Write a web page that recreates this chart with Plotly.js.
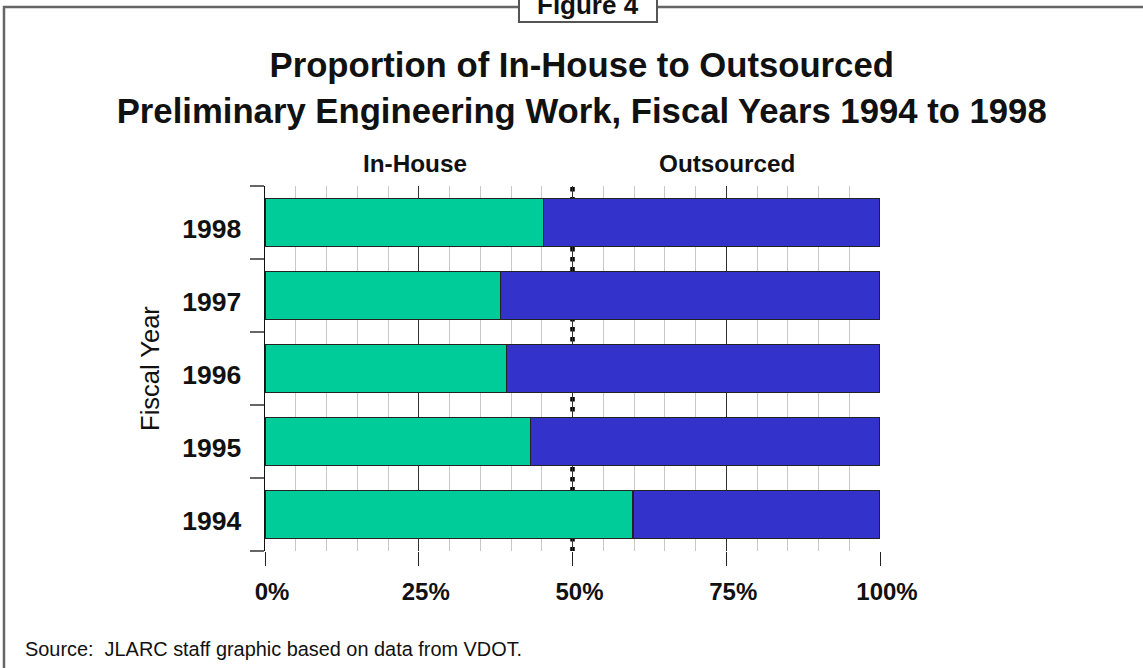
<!DOCTYPE html>
<html>
<head>
<meta charset="utf-8">
<script src="https://cdn.plot.ly/plotly-3.0.1.min.js"></script>
<style>
html,body{margin:0;padding:0;background:#fff;}
#chart{width:1143px;height:668px;}
</style>
</head>
<body>
<div id="chart"></div>
<script>
// Data
const fiscalYears = ["1994", "1995", "1996", "1997", "1998"];
const inHouse = [59.8, 43.2, 39.3, 38.3, 45.3];
const outsourced = [40.2, 56.8, 60.7, 61.7, 54.7];
const xTickVals = [0, 25, 50, 75, 100];
const xTickText = ["0%", "25%", "50%", "75%", "100%"];
const seriesNames = ["In-House", "Outsourced"];

const FONT = "Liberation Sans, Arial, Helvetica, sans-serif";
const INK = "#111";

const barOutline = {color: "#222", width: 1.5};
const traces = [
  {
    type: "bar", orientation: "h", name: seriesNames[0],
    y: fiscalYears, x: inHouse, width: 0.66,
    marker: {color: "#00CC99", line: barOutline},
    hoverinfo: "skip"
  },
  {
    type: "bar", orientation: "h", name: seriesNames[1],
    y: fiscalYears, x: outsourced, width: 0.66,
    marker: {color: "#3333CC", line: barOutline},
    hoverinfo: "skip"
  }
];

const layout = {
  width: 1143, height: 668,
  margin: {l: 265, r: 263, t: 186, b: 117, pad: 0},
  paper_bgcolor: "#fff", plot_bgcolor: "#fff",
  barmode: "stack",
  showlegend: false,
  font: {family: FONT, color: INK},
  title: {
    text: "Proportion of In-House to Outsourced<br>Preliminary Engineering Work, Fiscal Years 1994 to 1998",
    font: {family: FONT, size: 34.7, color: INK, weight: "bold"},
    x: 0.515, xanchor: "center", xref: "paper",
    y: 0.884, yanchor: "middle"
  },
  xaxis: {
    range: [0, 100], fixedrange: true,
    tickvals: xTickVals, ticktext: xTickText,
    ticks: "outside", ticklen: 14, tickwidth: 1, tickcolor: "#222",
    tickfont: {family: FONT, size: 24, color: INK, weight: "bold"},
    ticklabelstandoff: 5, ticklabelshift: 7,
    showgrid: true, gridcolor: "#333", gridwidth: 1,
    minor: {dtick: 5, showgrid: true, gridcolor: "#c8c8c8", gridwidth: 1, ticks: ""},
    zeroline: false, showline: false
  },
  yaxis: {
    type: "category", categoryorder: "array", categoryarray: fiscalYears,
    range: [-0.5, 4.5], fixedrange: true,
    tickson: "boundaries",
    ticks: "outside", ticklen: 14, tickwidth: 1.5, tickcolor: "#666",
    tickfont: {family: FONT, size: 26.5, color: INK, weight: "bold"},
    ticklabelstandoff: 17, ticklabelshift: 6,
    showline: true, linecolor: "#111", linewidth: 1.5,
    showgrid: false, zeroline: false,
    title: {text: "Fiscal Year", font: {family: FONT, size: 25.5, color: INK}, standoff: 15}
  },
  shapes: [
    // hide the solid 50% grid line, then draw the dotted midline
    {type: "line", xref: "x", yref: "paper", x0: 50, x1: 50, y0: 0, y1: 1,
     line: {color: "#fff", width: 3}, layer: "between"},
    {type: "line", xref: "x", yref: "paper", x0: 50, x1: 50, y0: 0.997, y1: 0,
     line: {color: "#000", width: 4.5, dash: "4.5px,5.5px"}, layer: "between"},
    // figure frame
    {type: "rect", xref: "paper", yref: "paper", x0: -0.4244, x1: 1.5, y0: -0.5, y1: 1.4904,
     line: {color: "#666", width: 2.5}, fillcolor: "rgba(0,0,0,0)", layer: "above"},
    // "Figure 4" label box
    {type: "rect", xref: "paper", yref: "paper", x0: 0.413, x1: 0.6374, y0: 1.4493, y1: 1.56,
     line: {color: "#555", width: 2}, fillcolor: "#fff", layer: "above"}
  ],
  annotations: [
    {text: "Figure 4", xref: "paper", yref: "paper", x: 0.5252, y: 1.497,
     xanchor: "center", yanchor: "middle", showarrow: false,
     font: {family: FONT, size: 26, color: INK, weight: "bold"}},
    {text: seriesNames[0], xref: "paper", yref: "paper", x: 0.2439, y: 1.063,
     xanchor: "center", yanchor: "middle", showarrow: false,
     font: {family: FONT, size: 24.3, color: INK, weight: "bold"}},
    {text: seriesNames[1], xref: "paper", yref: "paper", x: 0.7512, y: 1.063,
     xanchor: "center", yanchor: "middle", showarrow: false,
     font: {family: FONT, size: 24.3, color: INK, weight: "bold"}},
    {text: "Source:  JLARC staff graphic based on data from VDOT.", xref: "paper", yref: "paper",
     x: -0.3935, y: -0.2685, xanchor: "left", yanchor: "middle", showarrow: false,
     font: {family: FONT, size: 19.9, color: INK}}
  ]
};

Plotly.newPlot("chart", traces, layout, {staticPlot: true, displayModeBar: false});
</script>
</body>
</html>
